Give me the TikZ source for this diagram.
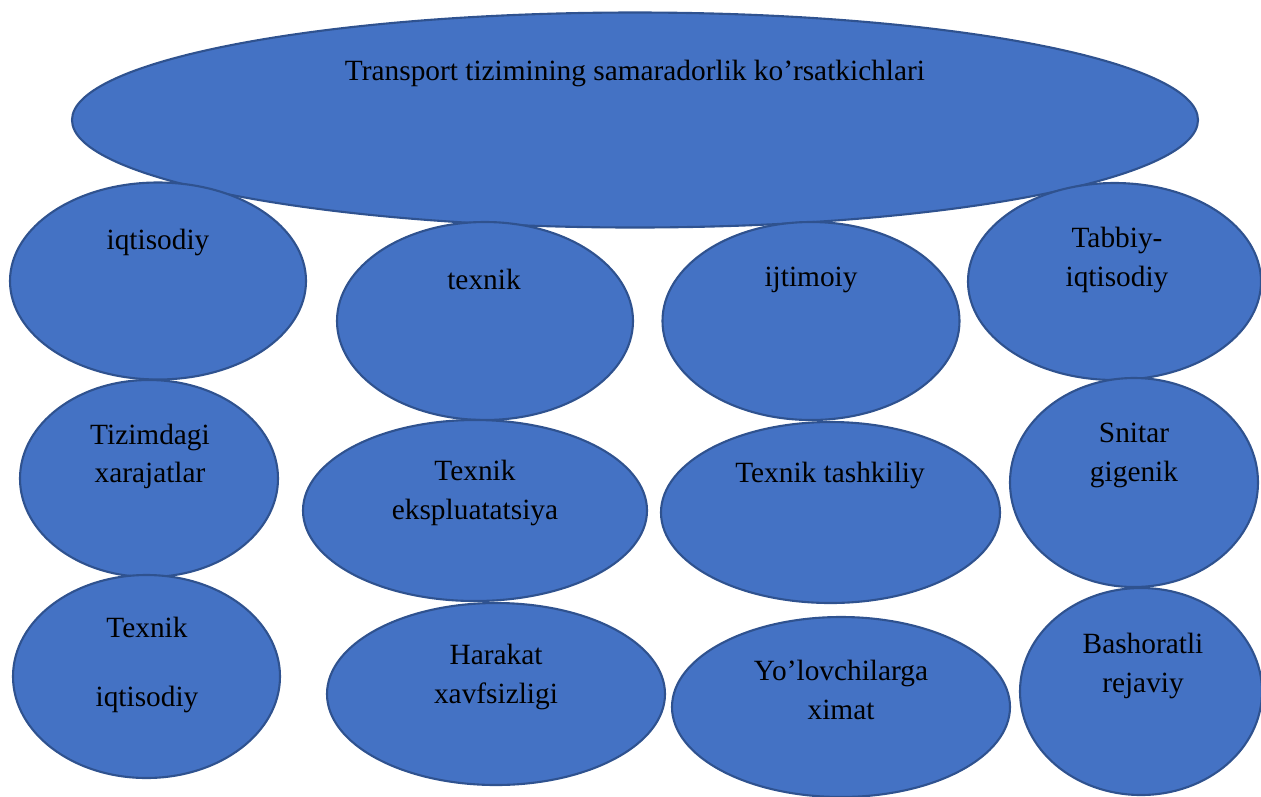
\documentclass[tikz,border=0pt]{standalone}
\usepackage{fontspec}
\setmainfont{Liberation Serif}
\usetikzlibrary{shapes.geometric, positioning}

\definecolor{ovalfill}{HTML}{4472C4}
\definecolor{ovalline}{HTML}{2F528F}

\begin{document}
\begin{tikzpicture}[
    oval/.style={ellipse, draw=ovalline, line width=1.2pt, fill=ovalfill, inner sep=0pt},
    txt/.style={font=\fontsize{16.7}{22}\selectfont, align=center, text=black},
]
\useasboundingbox (0,0) rectangle (25.22,-15.92);

% ========== HEADER ==========
\node[oval, minimum width=22.52cm, minimum height=4.30cm] at (12.70,-2.40) (main) {};
\node[txt] at (12.70,-1.47) (main_t) {Transport tizimining samaradorlik ko’rsatkichlari};

% ========== ROW 1 ==========
\node[oval, minimum width=5.92cm, minimum height=3.94cm] at (3.16,-5.62) (iqt) {};
\node[txt] at (3.16,-4.84) (iqt_t) {iqtisodiy};

\node[oval, minimum width=5.92cm, minimum height=3.96cm] at (9.70,-6.42) (tex) {};
\node[txt] at (9.68,-5.59) (tex_t) {texnik};

\node[oval, minimum width=5.94cm, minimum height=3.96cm] at (16.22,-6.42) (ijt) {};
\node[txt] at (16.22,-5.60) (ijt_t) {ijtimoiy};

\node[oval, minimum width=5.86cm, minimum height=3.94cm] at (22.29,-5.63) (tab) {};
\node[txt] at (22.34,-5.20) (tab_t) {Tabbiy-\\iqtisodiy};

% ========== ROW 2 ==========
\node[oval, minimum width=5.16cm, minimum height=3.94cm] at (2.98,-9.57) (tiz) {};
\node[txt] at (3.00,-9.13) (tiz_t) {Tizimdagi\\xarajatlar};

\node[oval, minimum width=6.88cm, minimum height=3.62cm] at (9.50,-10.21) (ekspl) {};
\node[txt] at (9.50,-9.86) (ekspl_t) {Texnik\\ekspluatatsiya};

\node[oval, minimum width=6.78cm, minimum height=3.62cm] at (16.61,-10.25) (tash) {};
\node[txt] at (16.60,-9.50) (tash_t) {Texnik tashkiliy};

\node[oval, minimum width=4.96cm, minimum height=4.18cm] at (22.68,-9.65) (snit) {};
\node[txt] at (22.68,-9.11) (snit_t) {Snitar\\gigenik};

% ========== ROW 3 ==========
\node[oval, minimum width=5.34cm, minimum height=4.06cm] at (2.93,-13.53) (tiq) {};
\node[txt] at (2.94,-13.30) (tiq_t) {Texnik\\[17pt]iqtisodiy};

\node[oval, minimum width=6.76cm, minimum height=3.64cm] at (9.92,-13.88) (har) {};
\node[txt] at (9.92,-13.54) (har_t) {Harakat\\xavfsizligi};

\node[oval, minimum width=6.76cm, minimum height=3.60cm] at (16.82,-14.14) (yol) {};
\node[txt] at (16.82,-13.80) (yol_t) {Yo’lovchilarga\\ximat};

\node[oval, minimum width=4.84cm, minimum height=4.14cm] at (22.82,-13.83) (bash) {};
\node[txt] at (22.86,-13.32) (bash_t) {Bashoratli\\rejaviy};

\end{tikzpicture}
\end{document}
